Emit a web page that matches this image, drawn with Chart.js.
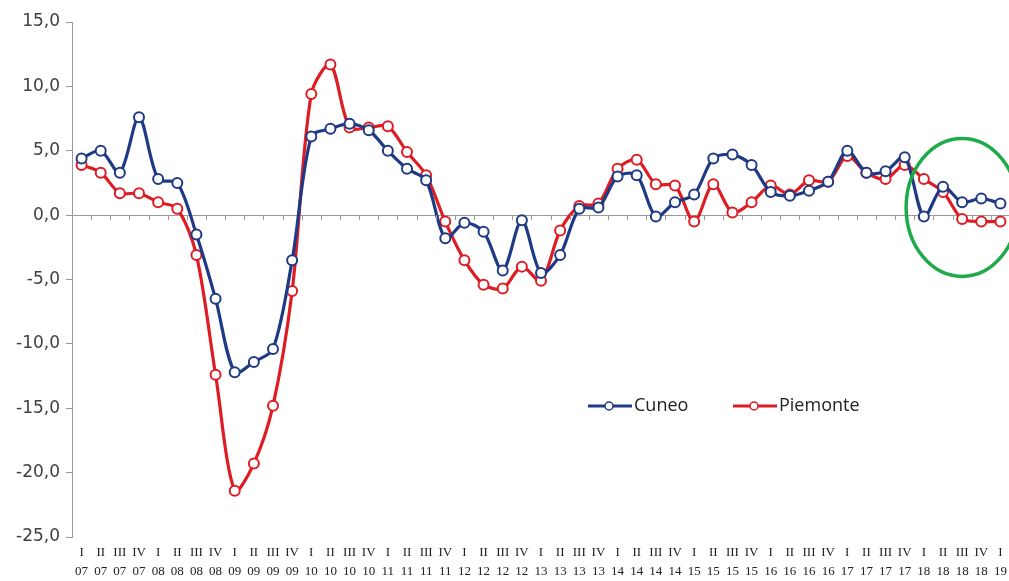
<!DOCTYPE html>
<html>
<head>
<meta charset="utf-8">
<script src="https://cdn.jsdelivr.net/npm/chart.js@4/dist/chart.umd.min.js"></script>
<style>
  html, body { margin: 0; padding: 0; background: #ffffff; }
  #wrap { width: 1009px; height: 581px; position: relative; overflow: hidden; }
</style>
</head>
<body>
<div id="wrap"><canvas id="chart" width="1017" height="581"></canvas></div>
<script>
// Quarters I 2007 .. I 2019
const quarters = ['I', 'II', 'III', 'IV'];
const years = ['07','08','09','10','11','12','13','14','15','16','17','18'];
const categories = [];
years.forEach(y => quarters.forEach(q => categories.push([q, y])));
categories.push(['I', '19']);

// Year-on-year change (%) by quarter
const cuneo = [
  4.4, 5.0, 3.3, 7.6, 2.8, 2.5, -1.5, -6.5, -12.2, -11.4, -10.4, -3.5,
  6.1, 6.7, 7.1, 6.6, 5.0, 3.6, 2.7, -1.8, -0.6, -1.3, -4.3, -0.4,
  -4.5, -3.1, 0.5, 0.6, 3.0, 3.1, -0.1, 1.0, 1.6, 4.4, 4.7, 3.9,
  1.8, 1.5, 1.9, 2.6, 5.0, 3.3, 3.4, 4.5, -0.1, 2.2, 1.0, 1.3, 0.9
];
const piemonte = [
  3.9, 3.3, 1.7, 1.7, 1.0, 0.5, -3.1, -12.4, -21.4, -19.3, -14.8, -5.9,
  9.4, 11.7, 6.8, 6.8, 6.9, 4.9, 3.1, -0.5, -3.5, -5.4, -5.7, -4.0,
  -5.1, -1.2, 0.7, 0.9, 3.6, 4.3, 2.4, 2.3, -0.5, 2.4, 0.2, 1.0,
  2.3, 1.6, 2.7, 2.6, 4.6, 3.3, 2.8, 3.9, 2.8, 1.8, -0.3, -0.5, -0.5
];
const yTicks = [15, 10, 5, 0, -5, -10, -15, -20, -25];

const navy = '#1f3a84';
const red = '#de1c24';
const green = '#1faa4a';
const axisGrey = '#9a9a9a';
const textGrey = '#404040';

// Legend drawn inside the plot, plus the highlight ring around the last quarters
const overlay = {
  id: 'overlay',
  afterDatasetsDraw(chart) {
    const { ctx, scales: { x, y } } = chart;
    ctx.save();

    // small tick marks along the zero line, at category boundaries
    const y0 = y.getPixelForValue(0);
    ctx.strokeStyle = axisGrey;
    ctx.lineWidth = 1;
    for (let i = 0; i <= categories.length; i++) {
      const px = Math.round(x.getPixelForValue(i - 0.5)) + 0.5;
      ctx.beginPath();
      ctx.moveTo(px, y0);
      ctx.lineTo(px, y0 + 5);
      ctx.stroke();
    }

    // highlight ring
    const cx = x.getPixelForValue(46);
    const cy = y.getPixelForValue(0.6);
    ctx.strokeStyle = green;
    ctx.lineWidth = 3.5;
    ctx.beginPath();
    ctx.ellipse(cx, cy, 56, 69, 0, 0, Math.PI * 2);
    ctx.stroke();

    // legend
    const items = [
      { label: 'Cuneo', color: navy, x: 588 },
      { label: 'Piemonte', color: red, x: 733 }
    ];
    const ly = 406;
    ctx.font = '18px "Open Sans", sans-serif';
    ctx.textBaseline = 'middle';
    items.forEach(it => {
      ctx.strokeStyle = it.color;
      ctx.lineWidth = 3;
      ctx.beginPath();
      ctx.moveTo(it.x, ly);
      ctx.lineTo(it.x + 44, ly);
      ctx.stroke();
      ctx.fillStyle = '#ffffff';
      ctx.lineWidth = 1.5;
      ctx.beginPath();
      ctx.arc(it.x + 21, ly, 4, 0, Math.PI * 2);
      ctx.fill();
      ctx.stroke();
      ctx.fillStyle = '#222222';
      ctx.fillText(it.label, it.x + 46, ly);
    });
    ctx.restore();
  }
};

new Chart(document.getElementById('chart'), {
  type: 'line',
  data: {
    labels: categories,
    datasets: [
      {
        label: 'Cuneo',
        data: cuneo,
        borderColor: navy,
        backgroundColor: '#ffffff',
        pointBackgroundColor: '#ffffff',
        pointBorderColor: navy,
        borderWidth: 3.2,
        pointRadius: 5,
        pointBorderWidth: 2,
        tension: 0.3
      },
      {
        label: 'Piemonte',
        data: piemonte,
        borderColor: red,
        backgroundColor: '#ffffff',
        pointBackgroundColor: '#ffffff',
        pointBorderColor: red,
        borderWidth: 3.2,
        pointRadius: 5,
        pointBorderWidth: 2,
        tension: 0.3
      }
    ]
  },
  options: {
    responsive: false,
    animation: false,
    events: [],
    layout: { padding: { top: 22, right: 0, left: 0, bottom: 0 } },
    plugins: {
      legend: { display: false },
      tooltip: { enabled: false }
    },
    scales: {
      x: {
        offset: true,
        grid: { display: false },
        border: { display: false },
        ticks: {
          autoSkip: false,
          maxRotation: 0,
          minRotation: 0,
          color: '#222222',
          padding: -2,
          font: { family: '"Liberation Serif", serif', size: 13, lineHeight: 1.45 }
        },
        afterFit(scale) { scale.height = 44; }
      },
      y: {
        min: -25,
        max: 15,
        afterBuildTicks(scale) {
          scale.ticks = yTicks.map(v => ({ value: v }));
        },
        grid: {
          drawOnChartArea: true,
          color: ctx => (ctx.tick && ctx.tick.value === 0 ? axisGrey : 'rgba(0,0,0,0)'),
          tickColor: axisGrey,
          tickLength: 6
        },
        border: { display: true, color: axisGrey, width: 1 },
        ticks: {
          color: textGrey,
          padding: 6,
          font: { family: '"DejaVu Sans", sans-serif', size: 17 },
          callback: v => v.toFixed(1).replace('.', ',')
        },
        afterFit(scale) { scale.width = 72; }
      }
    }
  },
  plugins: [overlay]
});
</script>
</body>
</html>
